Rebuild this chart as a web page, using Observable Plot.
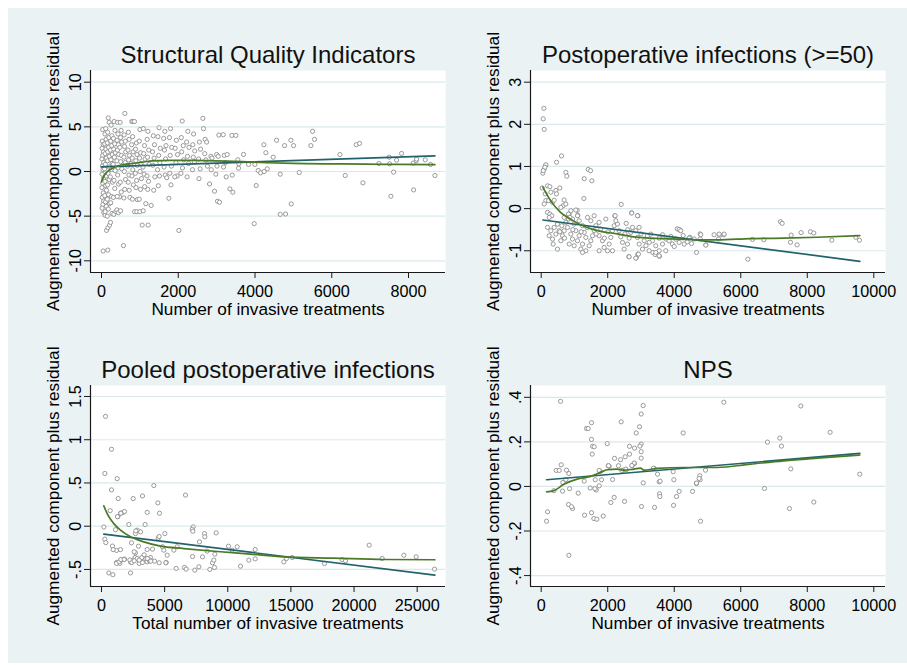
<!DOCTYPE html>
<html><head><meta charset="utf-8">
<script src="https://cdn.jsdelivr.net/npm/d3@7"></script>
<script src="https://cdn.jsdelivr.net/npm/@observablehq/plot@0.6"></script>
<style>
body{margin:0;background:#fff;}
#page{position:relative;width:907px;height:665px;overflow:hidden;background:#fff;font-family:Arial,"Liberation Sans",sans-serif;}
#bg{position:absolute;left:8px;top:8px;width:899px;height:655px;background:#eaf2f3;}
.panel{position:absolute;}
</style></head><body><div id="page"><div id="bg"></div></div>
<script>
// ---------- shared text ----------
const yAxisTitle = "Augmented component plus residual";

// ---------- Panel 1: Structural Quality Indicators ----------
const sqiTitle = "Structural Quality Indicators";
const sqiXLabel = "Number of invasive treatments";
const sqiXTicks = [0, 2000, 4000, 6000, 8000];
const sqiYTicks = [-10, -5, 0, 5, 10];
const sqiXDomain = [-287, 8964];
const sqiYDomain = [-11.31, 11.31];
const sqiPoints = [
[20,3.4],[45,3.0],[15,2.6],[50,2.2],[30,1.8],[10,1.4],[55,1.0],[25,0.6],[40,0.2],[15,-0.3],[50,-0.8],[30,-1.3],[10,-1.8],[45,-2.4],[20,-2.9],[55,-3.3],[35,-3.7],[15,-4.1],[30,4.7],[60,-4.6],[95,-4.9],[150,-5.0],[43,-8.9],[165,-8.8],
[110,4.8],[90,4.2],[120,3.6],[85,3.1],[115,2.5],[95,2.0],[125,1.5],[100,0.8],[80,0.3],[120,-0.5],[90,-1.1],[110,-1.6],[130,-2.1],[85,-2.7],[105,-3.4],[125,-3.9],[95,-4.5],
[175,6.0],[200,5.5],[160,4.4],[190,3.8],[150,3.2],[185,2.7],[165,2.2],[205,1.7],[155,1.2],[195,0.5],[170,-0.2],[200,-0.9],[160,-1.5],[185,-2.6],[150,-3.1],[205,-3.6],[175,-4.2],[130,-6.6],[165,-6.3],[210,-6.0],[235,-5.7],
[250,5.2],[270,4.0],[240,3.4],[265,2.9],[235,2.4],[280,1.9],[245,1.3],[275,0.9],[255,0.2],[230,-0.6],[285,-1.2],[260,-2.8],[240,-3.5],[275,-4.7],[320,-4.8],[375,-4.5],
[330,5.6],[350,4.6],[310,3.7],[345,3.1],[320,2.5],[360,2.1],[335,1.6],[305,0.8],[355,0.1],[325,-1.0],[345,-1.9],[310,-2.9],[400,-4.3],
[417,5.5],[430,4.2],[405,3.5],[440,3.0],[415,2.4],[450,1.9],[400,1.2],[435,0.4],[420,-0.4],[445,-1.4],[470,-2.85],[410,-2.8],[440,-4.6],
[486,5.5],[510,4.6],[495,3.8],[525,3.3],[480,2.7],[520,1.8],[500,1.1],[530,0.3],[490,-1.2],[515,-2.3],[495,-4.4],
[608,6.5],[590,4.1],[620,3.4],[600,2.8],[630,2.2],[585,1.6],[615,1.0],[595,0.0],[625,-0.9],[605,-2.0],[582,-2.96],[573,-8.3],
[700,4.4],[720,3.6],[690,2.4],[730,1.8],[705,1.3],[680,0.6],[715,-0.4],[695,-1.2],[721,-2.1],[740,-2.9],
[790,5.6],[817,5.6],[810,3.9],[785,3.0],[825,2.2],[800,1.5],[770,0.9],[815,0.2],[795,-0.5],[830,-1.5],[805,-3.1],[860,-4.5],
[860,5.6],[910,3.2],[885,2.5],[925,1.9],[895,1.2],[930,0.7],[880,-0.2],[915,-1.0],[900,-1.8],[930,-3.15],[921,-4.5],
[1000,4.7],[985,3.4],[1020,2.1],[990,1.5],[1030,0.9],[1005,0.0],[1040,-0.8],[982,-3.1],[999,-4.5],[1015,-2.0],
[1090,4.8],[1120,2.9],[1100,2.0],[1135,1.4],[1080,0.5],[1110,-0.3],[1125,-1.7],[1086,-4.4],[1060,-6.0],[1155,-3.6],
[1210,4.5],[1190,3.6],[1230,2.4],[1200,1.6],[1240,0.8],[1185,-0.5],[1225,-1.1],[1205,-2.0],[1294,-3.8],[1216,-6.0],
[1350,4.0],[1380,3.0],[1330,2.2],[1370,1.5],[1340,0.7],[1390,-0.6],[1360,-2.1],
[1500,4.9],[1470,3.9],[1530,2.6],[1490,1.8],[1520,1.0],[1460,0.2],[1510,-0.5],[1480,-1.6],
[1650,4.5],[1620,3.7],[1680,2.9],[1640,2.4],[1670,1.4],[1630,0.5],[1660,-0.4],[1700,-0.7],
[1800,4.8],[1770,3.8],[1830,2.7],[1790,1.8],[1820,0.6],[1780,-0.2],[1810,-1.5],[1755,-3.0],
[1950,3.5],[1920,2.6],[1980,1.9],[1940,1.0],[1970,-0.5],[1910,-0.6],[2016,-6.6],
[2103,5.65],[2080,3.8],[2130,2.9],[2090,2.2],[2140,1.3],[2110,0.4],[2070,-0.2],
[2250,4.5],[2220,3.3],[2280,2.7],[2240,1.7],[2270,0.9],[2230,-0.6],
[2400,4.2],[2380,3.0],[2430,2.3],[2390,1.6],[2420,1.1],[2370,0.2],
[2550,3.3],[2580,2.5],[2530,1.4],[2570,0.3],[2540,-0.8],
[2641,5.95],[2659,4.8],[2700,3.6],[2740,3.3],[2690,2.0],[2720,1.3],[2760,0.6],[2815,-1.4],
[2850,1.7],[2880,1.5],[2860,0.2],[2945,-2.2],[3000,1.9],[3040,1.7],[3010,0.6],[2980,-0.3],[3023,-3.33],[3076,-3.44],[3058,4.08],[3171,4.12],[3200,1.8],[3230,1.0],[3180,0.5],[3250,-0.6],[3275,1.9],
[3345,-1.95],[3423,-2.32],[3406,-0.41],[3397,4.04],[3501,4.04],[3553,1.31],[3570,0.37],[3579,0.86],[3701,1.91],[3831,0.79],[3996,0.79],[3979,-5.84],[4031,-1.57],[4083,0.11],[4144,-0.15],[4239,0.0],[4318,0.3],[4231,3.0],[4283,2.1],[4474,1.6],[4561,3.5],[4657,-0.3],[4657,-4.8],[4796,-4.76],[4944,-3.63],[4770,2.9],[4935,3.5],[5005,2.9],[5152,-0.11],[5456,2.9],[5500,4.5],[5552,3.6],[6212,1.9],[6351,-0.45],[6638,3.0],[6725,3.15],[6812,-1.27],[7228,0.9],[7498,1.6],[7506,0.86],[7541,-2.77],[7611,-0.07],[7689,1.27],[7819,2.02],[8123,0.94],[8200,1.2],[8132,-2.06],[8210,1.39],[8436,1.31],[8575,0.79],[8688,-0.45]
];
const sqiFit = [[0,0.52],[8688,1.74]];
const sqiLowess = [[0,-1.15],[69,-0.45],[156,0],[287,0.37],[460,0.67],[720,0.86],[1068,1.05],[1329,1.18],[1763,1.25],[2371,1.25],[3240,1.17],[3672,1.1],[4300,0.98],[5000,0.9],[6228,0.85],[7400,0.8],[8688,0.76]];

// ---------- Panel 2: Postoperative infections (>=50) ----------
const poiTitle = "Postoperative infections (>=50)";
const poiXLabel = "Number of invasive treatments";
const poiXTicks = [0, 2000, 4000, 6000, 8000, 10000];
const poiYTicks = [-1, 0, 1, 2, 3];
const poiXDomain = [-322, 10352];
const poiYDomain = [-1.516, 3.277];
const poiPoints = [
[80,2.38],[60,2.13],[90,1.88],[50,0.84],[90,0.94],[130,1.02],[140,1.04],[110,0.98],[60,0.9],
[611,1.25],[461,1.1],[741,0.86],[771,0.77],[1413,0.93],[1483,0.9],[1293,0.71],[1523,0.66],[1283,0.24],[2405,0.1],[2715,-0.1],[2906,-0.17],[2214,-0.17],[2555,-0.35],[1082,-0.04],[1102,-0.16],
[7194,-0.31],[7245,-0.35],[6212,-1.2],[4669,-1.04],[7515,-0.63],[7495,-0.8],[7695,-0.86],[7815,-0.57],[8096,-0.55],[8196,-0.58],[8737,-0.75],[9458,-0.68],[9569,-0.75],[6693,-0.74],[6352,-0.73],[5491,-0.62],[5370,-0.63],[5330,-0.72],[4950,-0.86],[4779,-0.6],[4779,-0.72],[4599,-0.72],[4470,-0.68],[4390,-0.79],[4520,-0.83],[4168,-0.51],[4090,-0.48],[4268,-0.64],[2906,-1.08],[2856,-1.17],[2635,-1.14],[3357,-1.04],[3427,-1.09],[3557,-1.13],
[30,0.49],[190,0.54],[260,0.52],[120,0.35],[140,0.19],[220,0.19],[90,0.11],[190,-0.09],[260,-0.13],[320,-0.17],[240,-0.21],[340,0.15],[390,0.2],[290,0.39],[440,0.43],[560,0.49],[460,0.35],
[189,-0.446],[290,-0.525],[239,-0.644],[340,-0.723],[440,-0.605],[390,-0.446],[490,-0.367],[540,-0.525],[360,-0.842],[490,-0.961],[590,-0.763],[640,-0.644],[690,-0.525],[620,-0.406],[740,-0.327],[690,-0.208],[841,-0.129],[821,-0.248],[791,-0.446],[891,-0.605],[941,-0.723],[841,-0.842],[991,-0.882],[1091,-0.763],[1141,-0.644],[1041,-0.525],[991,-0.367],[941,-0.248],[1091,-0.169],[1141,-0.288],[1242,-0.406],[1292,-0.565],[1342,-0.684],[1242,-0.842],[1192,-0.961],[1342,-1.001],[1442,-0.882],[1492,-0.763],[1542,-0.644],[1592,-0.525],[1642,-0.406],[1492,-0.288],[1392,-0.208],[1742,-0.327],[1792,-0.486],[1742,-0.644],[1843,-0.763],[1893,-0.922],[1993,-1.001],[2043,-0.842],[2093,-0.684],[2143,-0.525],[2193,-0.406],[2293,-0.367],[2343,-0.525],[2393,-0.668],[2444,-0.803],[2494,-0.961],[2594,-0.842],[2644,-0.7],[2694,-0.565],[2744,-0.446],[2844,-0.525],[2894,-0.684],[2944,-0.842],[3045,-0.961],[3095,-0.763],[3195,-0.644],[3295,-0.605],[3345,-0.763],[3445,-0.882],[3545,-1.001],[3646,-0.842],[3746,-0.723],[3846,-0.763],[3946,-0.842],[4046,-0.723],[4147,-0.803],[4297,-0.842],[4447,-0.7],[4798,-0.62],[4949,-0.867],[5199,-0.62],[5349,-0.605],[5500,-0.605],[4147,-0.494],[4197,-0.525],[2724,-0.105],[2894,-0.169],[2224,-0.169],[2944,-0.446],[2244,-0.288],[1943,-0.248],[1592,-0.169],[1041,-0.034],[891,-0.05],[660,0.069],[740,0.109],[690,0.204],[590,0.029],[821,-0.129],[861,-0.208],[2644,-1.143],[2844,-1.175],[2924,-1.08],[3245,-1.0],[3545,-1.12],[3445,-1.04],[3746,-1.0],[1242,-1.04],[1742,-1.0],[2143,-1.0],
[560,-0.55],[700,-0.7],[950,-0.5],[1200,-0.55],[1380,-0.45],[1650,-0.6],[1900,-0.7],[2000,-0.55],[2520,-0.6],[2600,-0.5],[3000,-0.6],[3150,-0.88],[3250,-0.8],[3550,-0.7],[3650,-0.62],[3900,-0.66],[4000,-0.9]
];
const poiFit = [[50,-0.27],[9580,-1.25]];
const poiLowess = [[50,0.51],[281,0.19],[581,-0.09],[882,-0.25],[1283,-0.42],[1784,-0.54],[2285,-0.6],[2786,-0.67],[3287,-0.7],[4289,-0.73],[4790,-0.74],[5291,-0.74],[6293,-0.71],[7295,-0.7],[8297,-0.68],[9580,-0.64]];

// ---------- Panel 3: Pooled postoperative infections ----------
const ppiTitle = "Pooled postoperative infections";
const ppiXLabel = "Total number of invasive treatments";
const ppiXTicks = [0, 5000, 10000, 15000, 20000, 25000];
const ppiYTicks = [-0.5, 0, 0.5, 1, 1.5];
const ppiXDomain = [-871, 27243];
const ppiYDomain = [-0.697, 1.627];
const ppiPoints = [
[317,1.27],[792,0.89],[264,0.61],[1241,0.55],[792,0.42],[4145,0.47],[3247,0.35],[2508,0.32],[1320,0.32],[4461,0.27],[6653,0.36],[3617,0.16],[4593,0.15],[686,0.18],[1505,0.15],[1716,0.16],[1822,0.17],[1294,0.11],[2165,0.02],[3458,0.02],[185,-0.01],[1109,-0.04],[264,-0.15],[343,-0.19],[871,-0.23],[1188,-0.28],[1505,-0.27],[1188,-0.42],[1452,-0.43],[1558,-0.39],[1822,-0.38],[581,-0.54],[898,-0.56],[2297,-0.54],
[2297,-0.415],[2481,-0.392],[2666,-0.362],[2825,-0.373],[3036,-0.392],[3194,-0.362],[3379,-0.331],[3511,-0.377],[3617,-0.412],[3801,-0.4],[3881,-0.362],[4039,-0.265],[3089,-0.065],[2825,-0.046],[2693,-0.085],[2376,-0.192],[2693,-0.308],[2930,-0.231],[3617,-0.269],[3828,-0.392],[4197,-0.404],[4488,-0.138],[4567,-0.119],[4831,-0.238],[4937,-0.277],[5016,-0.085],[5121,-0.419],[5201,-0.335],[5729,-0.277],[5993,-0.238],[5913,-0.488],[6573,-0.477],[6705,-0.496],[7260,-0.008],[7181,-0.035],[7233,-0.058],[7207,-0.35],[7392,-0.508],[7709,-0.469],[7761,-0.181],[7999,-0.354],[8157,-0.085],[8184,-0.123],[8369,-0.288],[8580,-0.5],[8791,-0.423],[8897,-0.392],[8976,-0.323],[8950,-0.477],[9081,-0.077],[10058,-0.231],[10348,-0.277],[10744,-0.238],[11008,-0.462],[11668,-0.392],[12170,-0.269],[12170,-0.377],[14440,-0.412],[14651,-0.373],[15100,-0.362],[17661,-0.431],[19060,-0.385],[19324,-0.4],[21198,-0.219],[22228,-0.373],[23944,-0.335],[24921,-0.354],[26373,-0.496],
[1188,-0.43],[1399,-0.41],[1531,-0.385],[1795,-0.385],[2244,-0.39],[2403,-0.42],[2587,-0.4],[2983,-0.43],[3247,-0.42],[3643,-0.373],[3907,-0.404],[4567,-0.423],[5095,-0.423],[2587,-0.296],[2983,-0.392],[2719,-0.054],[924,-0.27],[1267,0.11],[1531,0.15]
];
const ppiFit = [[185,-0.092],[26400,-0.565]];
const ppiLowess = [[185,0.235],[449,0.146],[977,0.03],[1505,-0.046],[2297,-0.123],[3353,-0.181],[4673,-0.231],[6521,-0.258],[9161,-0.292],[11801,-0.323],[14440,-0.354],[18400,-0.369],[22360,-0.385],[26400,-0.388]];

// ---------- Panel 4: NPS ----------
const npsTitle = "NPS";
const npsXLabel = "Number of invasive treatments";
const npsXTicks = [0, 2000, 4000, 6000, 8000, 10000];
const npsYTicks = [-0.4, -0.2, 0, 0.2, 0.4];
const npsXDomain = [-322, 10352];
const npsYDomain = [-0.449, 0.453];
const npsPoints = [
[581,0.382],[5491,0.378],[7806,0.361],[3066,0.363],[3006,0.325],[2956,0.268],[2405,0.29],[2856,0.24],[4268,0.24],[8687,0.243],[1363,0.26],[1413,0.26],[1513,0.286],[1513,0.211],[1543,0.18],[1593,0.178],[1533,0.145],[1984,0.192],[2655,0.18],[2806,0.172],[3006,0.19],[2966,0.181],[3006,0.156],[3006,0.127],[2655,0.145],[2806,0.103],[2735,0.093],[2525,0.133],[2385,0.12],[2204,0.126],[2324,0.093],[2014,0.093],[2044,0.09],[7174,0.217],[7224,0.181],[6803,0.199],[7505,0.079],[9579,0.055],[6713,-0.009],[7465,-0.099],[8196,-0.07],[4790,-0.156],[4779,0.03],[4769,0.048],[4669,0.013],[4940,0.073],[4549,-0.022],[4148,-0.022],[4068,-0.045],[3978,-0.085],[3988,0.03],[3547,0.021],[3577,0.024],[3557,-0.033],[3567,-0.045],[3497,0.055],[3397,0.081],[3407,-0.094],[3016,-0.09],[3066,0.016],[2505,-0.067],[2194,-0.049],[2094,-0.072],[2144,0.031],[1814,0.03],[1744,0.003],[1654,-0.016],[1614,-0.01],[1624,0.03],[1473,-0.007],[1583,-0.144],[1673,-0.147],[1513,-0.118],[1864,-0.133],[1303,-0.129],[1112,-0.03],[852,-0.01],[822,-0.081],[942,-0.099],[912,-0.091],[832,-0.309],[190,-0.114],[160,-0.156],[381,-0.019],[641,-0.021],[651,0.018],[741,0.031],[762,0.073],[832,0.058],[601,0.097],[451,0.072],[541,0.072],[1293,0.024],[1774,0.067],[2465,0.073],[2555,0.075],[3968,0.066],[1743,0.072],[2024,0.093],[2794,0.105],[2724,0.094],[2544,0.078],[2424,0.072],[3375,0.082],[4668,0.015],[4748,0.036]
];
const npsFit = [[160,0.03],[9580,0.148]];
const npsLowess = [[160,-0.024],[381,-0.019],[681,0.01],[1082,0.033],[1483,0.045],[1784,0.063],[1984,0.075],[2285,0.078],[2485,0.073],[2786,0.078],[2986,0.082],[3086,0.073],[3487,0.081],[4288,0.085],[5291,0.085],[6293,0.1],[7294,0.115],[8296,0.127],[9580,0.141]];

// ---------- styling ----------
const FONT = "Arial, 'Liberation Sans', sans-serif";
const pointColor = "#8e8e8e";
const fitColor = "#22636b";
const lowessColor = "#4a7a26";
const gridColor = "#dce8eb";
const axisColor = "#1a1a1a";
const fmtY = d => String(d).replace(/^0\./, ".").replace(/^-0\./, "-.");

function panel(cfg) {
  const {points, fit, lowess, xDomain, yDomain, xTicks, yTicks, title, xLabel,
         left, top, width, height, mL, mR, mT, mB} = cfg;
  const mid = {textAnchor: "middle", lineAnchor: "middle"};
  const svg = Plot.plot({
    width, height, marginLeft: mL, marginRight: mR, marginTop: mT, marginBottom: mB,
    x: {domain: xDomain}, y: {domain: yDomain},
    style: {fontFamily: FONT, fontSize: "16px", color: "#000", background: "transparent", overflow: "visible"},
    marks: [
      Plot.frame({fill: "white", stroke: null}),
      Plot.gridY({ticks: yTicks, stroke: gridColor, strokeOpacity: 1, strokeWidth: 1.2}),
      Plot.ruleX([xDomain[0]], {stroke: axisColor, strokeWidth: 1.2}),
      Plot.ruleY([yDomain[0]], {stroke: axisColor, strokeWidth: 1.2}),
      Plot.axisX({ticks: xTicks, tickSize: 6, tickFormat: () => "", label: null, stroke: axisColor}),
      Plot.axisY({ticks: yTicks, tickSize: 6, tickFormat: () => "", label: null, stroke: axisColor}),
      Plot.text(xTicks, {x: d => d, frameAnchor: "bottom", dy: 19.5, text: d => String(d), fontSize: 16.2, ...mid}),
      Plot.text(yTicks, {y: d => d, frameAnchor: "left", dx: -15, rotate: -90, text: fmtY, fontSize: 16.2, ...mid}),
      Plot.text([xLabel], {frameAnchor: "bottom", dy: 37, text: d => d, fontSize: 17.2, ...mid}),
      Plot.text([yAxisTitle], {frameAnchor: "left", dx: -37.5, rotate: -90, text: d => d, fontSize: 17.2, ...mid}),
      Plot.text([title], {frameAnchor: "top", dy: -15, text: d => d, fontSize: 24, fill: "#111", ...mid}),
      Plot.dot(points, {x: d => d[0], y: d => d[1], r: 2.1, stroke: pointColor, strokeWidth: 0.9, fill: "white"}),
      Plot.line(fit, {x: d => d[0], y: d => d[1], stroke: fitColor, strokeWidth: 1.7}),
      Plot.line(lowess, {x: d => d[0], y: d => d[1], stroke: lowessColor, strokeWidth: 1.7, curve: "monotone-x"})
    ]
  });
  svg.classList.add("panel");
  svg.style.left = left + "px";
  svg.style.top = top + "px";
  document.getElementById("page").appendChild(svg);
}

panel({points: sqiPoints, fit: sqiFit, lowess: sqiLowess, xDomain: sqiXDomain, yDomain: sqiYDomain,
  xTicks: sqiXTicks, yTicks: sqiYTicks, title: sqiTitle, xLabel: sqiXLabel,
  left: 0, top: 0, width: 453, height: 330, mL: 90, mR: 8, mT: 70, mB: 58});
panel({points: poiPoints, fit: poiFit, lowess: poiLowess, xDomain: poiXDomain, yDomain: poiYDomain,
  xTicks: poiXTicks, yTicks: poiYTicks, title: poiTitle, xLabel: poiXLabel,
  left: 450, top: 0, width: 457, height: 330, mL: 80, mR: 22, mT: 70, mB: 58});
panel({points: ppiPoints, fit: ppiFit, lowess: ppiLowess, xDomain: ppiXDomain, yDomain: ppiYDomain,
  xTicks: ppiXTicks, yTicks: ppiYTicks, title: ppiTitle, xLabel: ppiXLabel,
  left: 0, top: 330, width: 453, height: 335, mL: 90, mR: 8, mT: 55, mB: 79});
panel({points: npsPoints, fit: npsFit, lowess: npsLowess, xDomain: npsXDomain, yDomain: npsYDomain,
  xTicks: npsXTicks, yTicks: npsYTicks, title: npsTitle, xLabel: npsXLabel,
  left: 450, top: 330, width: 457, height: 335, mL: 80, mR: 22, mT: 55, mB: 79});
</script>
</body></html>
